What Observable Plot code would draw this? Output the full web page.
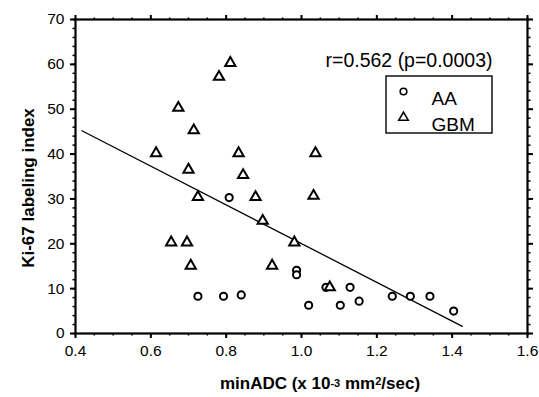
<!DOCTYPE html>
<html><head><meta charset="utf-8">
<script src="https://cdn.jsdelivr.net/npm/d3@7"></script>
<script src="https://cdn.jsdelivr.net/npm/@observablehq/plot@0.6"></script>
<style>body{margin:0;background:#fff;} #chart{width:539px;height:397px;}</style>
</head><body><div id="chart"></div>
<script>
// AA (circles)
const aaX = [0.808, 0.725, 0.793, 0.840, 0.987, 0.987, 1.065, 1.129, 1.019, 1.103, 1.153, 1.241, 1.289, 1.341, 1.404];
const aaY = [30.3, 8.3, 8.3, 8.6, 14.1, 13.1, 10.3, 10.3, 6.3, 6.3, 7.2, 8.3, 8.3, 8.3, 5.0];
// GBM (triangles)
const gbmX = [0.811, 0.781, 0.673, 0.714, 0.614, 0.833, 0.700, 0.845, 0.725, 0.878, 1.037, 1.032, 0.897, 0.654, 0.696, 0.981, 0.706, 0.922, 1.075];
const gbmY = [60.3, 57.2, 50.3, 45.3, 40.2, 40.2, 36.5, 35.3, 30.4, 30.4, 40.2, 30.7, 25.1, 20.3, 20.3, 20.3, 15.1, 15.1, 10.3];
// regression line end points (as drawn)
const fitX = [0.417, 1.427];
const fitY = [45.2, 1.6];
// ticks
const xTicks = [0.4, 0.6, 0.8, 1.0, 1.2, 1.4, 1.6];
const yTicks = [0, 10, 20, 30, 40, 50, 60, 70];
const xMinor = d3.range(0, 25).map(i => +(0.4 + i * 0.05).toFixed(2));
const yMinor = d3.range(0, 36).map(i => i * 2);
const statText = "r=0.562 (p=0.0003)";
const legendLabels = ["AA", "GBM"];

const aa = aaX.map((x, i) => ({x, y: aaY[i]}));
const gbm = gbmX.map((x, i) => ({x, y: gbmY[i]}));
const fit = fitX.map((x, i) => ({x, y: fitY[i]}));

const FONT = "'Liberation Sans', Arial, Helvetica, sans-serif";

function legendBox(index, scales, values, dim) {
  const right = dim.width - dim.marginRight;
  const top = dim.marginTop;
  return d3.create("svg:rect")
    .attr("x", right - 141).attr("y", top + 57)
    .attr("width", 106).attr("height", 57)
    .attr("fill", "none").attr("stroke", "black").attr("stroke-width", 1.4)
    .node();
}

function xTitle(index, scales, values, dim) {
  const cx = (dim.marginLeft + dim.width - dim.marginRight) / 2 + 19;
  const t = d3.create("svg:text")
    .attr("x", cx).attr("y", dim.height - 8)
    .attr("text-anchor", "middle")
    .attr("font-family", FONT).attr("font-size", 17).attr("font-weight", "bold")
    .attr("fill", "black");
  t.append("tspan").text("minADC (x 10");
  t.append("tspan").attr("font-size", 11).attr("dy", -2).text("-3");
  t.append("tspan").attr("dy", 2).text(" mm");
  t.append("tspan").attr("font-size", 11).attr("dy", -4).text("2");
  t.append("tspan").attr("dy", 4).text("/sec)");
  return t.node();
}

function yTitle(index, scales, values, dim) {
  const cy = (dim.marginTop + dim.height - dim.marginBottom) / 2 + 12;
  return d3.create("svg:text")
    .attr("transform", `translate(34,${cy}) rotate(-90)`)
    .attr("text-anchor", "middle")
    .attr("font-family", FONT).attr("font-size", 17).attr("font-weight", "bold")
    .attr("fill", "black")
    .text("Ki-67 labeling index")
    .node();
}

const plot = Plot.plot({
  width: 539,
  height: 397,
  marginLeft: 75,
  marginRight: 12,
  marginTop: 19,
  marginBottom: 64,
  style: {fontFamily: FONT, fontSize: "15.5px", color: "black", background: "white"},
  x: {domain: [0.4, 1.6], label: null},
  y: {domain: [0, 70], label: null},
  marks: [
    Plot.axisX({anchor: "bottom", ticks: xMinor, tickSize: 2.5, text: null, label: null, strokeWidth: 1.5}),
    Plot.axisX({anchor: "top", ticks: xMinor, tickSize: 2.5, text: null, label: null, strokeWidth: 1.5}),
    Plot.axisX({anchor: "bottom", ticks: xTicks, tickSize: 5, tickPadding: 6, tickFormat: d3.format(".1f"), label: null, strokeWidth: 2, fontSize: 15.5}),
    Plot.axisX({anchor: "top", ticks: xTicks, tickSize: 5, text: null, label: null, strokeWidth: 2}),
    Plot.axisY({anchor: "left", ticks: yMinor, tickSize: 2.5, text: null, label: null, strokeWidth: 1.5}),
    Plot.axisY({anchor: "right", ticks: yMinor, tickSize: 2.5, text: null, label: null, strokeWidth: 1.5}),
    Plot.axisY({anchor: "left", ticks: yTicks, tickSize: 5, tickPadding: 6, tickFormat: d3.format("d"), label: null, strokeWidth: 2, fontSize: 15.5}),
    Plot.axisY({anchor: "right", ticks: yTicks, tickSize: 5, text: null, label: null, strokeWidth: 2}),
    Plot.frame({stroke: "black", strokeWidth: 2.2}),
    Plot.line(fit, {x: "x", y: "y", stroke: "black", strokeWidth: 1.3}),
    Plot.dot(aa, {x: "x", y: "y", symbol: "circle", r: 3.6, stroke: "black", strokeWidth: 2, fill: "white"}),
    Plot.dot(gbm, {x: "x", y: "y", symbol: "triangle", r: 3.8, stroke: "black", strokeWidth: 2, fill: "white"}),
    Plot.text([statText], {text: d => d, frameAnchor: "top-right", dx: -35, dy: 34, textAnchor: "end", fontSize: 19.5, fill: "black"}),
    legendBox,
    Plot.dot([0], {frameAnchor: "top-right", dx: -124, dy: 72, symbol: "circle", r: 3.3, stroke: "black", strokeWidth: 1.6, fill: "white"}),
    Plot.dot([0], {frameAnchor: "top-right", dx: -124, dy: 98, symbol: "triangle", r: 3.5, stroke: "black", strokeWidth: 1.6, fill: "white"}),
    Plot.text([legendLabels[0]], {text: d => d, frameAnchor: "top-right", dx: -96, dy: 72, textAnchor: "start", fontSize: 19, fill: "black"}),
    Plot.text([legendLabels[1]], {text: d => d, frameAnchor: "top-right", dx: -96, dy: 98, textAnchor: "start", fontSize: 19, fill: "black"}),
    xTitle,
    yTitle
  ]
});
document.getElementById("chart").appendChild(plot);
</script>
</body></html>
